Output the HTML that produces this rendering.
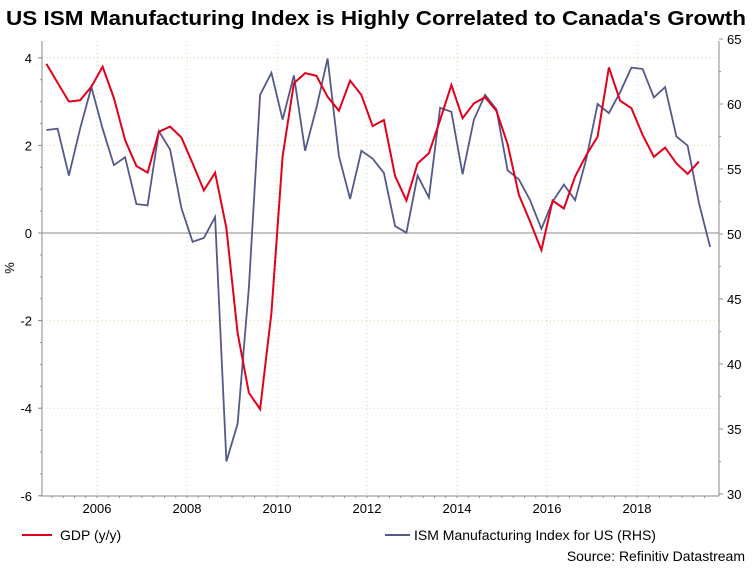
<!DOCTYPE html>
<html><head><meta charset="utf-8"><style>
body{margin:0;background:#fff;font-family:"Liberation Sans",sans-serif;}
svg text{font-family:"Liberation Sans",sans-serif;}
</style></head><body>
<svg id="chart" width="752" height="572" viewBox="0 0 752 572" xmlns="http://www.w3.org/2000/svg">
<text x="6" y="25" font-size="20" font-weight="bold" fill="#000" textLength="740" lengthAdjust="spacingAndGlyphs">US ISM Manufacturing Index is Highly Correlated to Canada's Growth</text>
<g id="grid"></g><g id="axes"></g><g id="series"></g>
<text x="0" y="0" font-size="13" transform="translate(14,268) rotate(-90)" text-anchor="middle">%</text>
<line x1="22" y1="535" x2="52" y2="535" stroke="#e3001b" stroke-width="2"/>
<text x="60" y="540" font-size="14">GDP (y/y)</text>
<line x1="385" y1="535" x2="410" y2="535" stroke="#53598a" stroke-width="2"/>
<text x="414" y="540" font-size="14">ISM Manufacturing Index for US (RHS)</text>
<text x="745" y="561" font-size="14" text-anchor="end">Source: Refinitiv Datastream</text>
</svg>
<script>
const startYear = 2004.875;
const gdpValues = [3.86,3.43,3.0,3.03,3.34,3.8,3.08,2.12,1.53,1.38,2.31,2.43,2.18,1.59,0.97,1.38,0.11,-2.28,-3.65,-4.02,-1.83,1.75,3.42,3.65,3.59,3.11,2.79,3.48,3.15,2.44,2.58,1.30,0.74,1.59,1.82,2.58,3.38,2.62,2.96,3.10,2.79,2.03,0.87,0.26,-0.39,0.74,0.56,1.29,1.78,2.2,3.78,3.02,2.85,2.24,1.74,1.95,1.59,1.35,1.63];
const ismValues = [58.0,58.1,54.5,58.1,61.3,58.1,55.3,55.9,52.3,52.2,57.9,56.5,52.0,49.4,49.7,51.3,32.5,35.4,45.9,60.7,62.4,58.8,62.2,56.4,59.7,63.5,56.0,52.7,56.4,55.8,54.7,50.6,50.1,54.5,52.8,59.7,59.4,54.6,58.8,60.7,59.6,54.9,54.2,52.6,50.4,52.5,53.8,52.6,55.8,60.0,59.3,60.9,62.8,62.7,60.5,61.3,57.5,56.8,52.4,49.0];
const leftTicks = [4,2,0,-2,-4,-6];
const rightTicks = [65,60,55,50,45,40,35,30];
const yearTicks = [2006,2008,2010,2012,2014,2016,2018];

const L=42,R=719,T=41,B=496;
const xS=y=>97+(y-2006)*45;
const yL=v=>233-v*43.8;
const yR=v=>234-(v-50)*13;
const NS='http://www.w3.org/2000/svg';
function mk(tag,attrs,parent,txt){const e=document.createElementNS(NS,tag);for(const k in attrs)e.setAttribute(k,attrs[k]);if(txt!==undefined)e.textContent=txt;parent.appendChild(e);return e;}
const grid=document.getElementById('grid'),axes=document.getElementById('axes'),series=document.getElementById('series');
yearTicks.forEach(y=>{const x=xS(y);
 const g=mk('line',{x1:x,y1:T,x2:x,y2:B,stroke:'#b8d4b8','stroke-dasharray':'1,3'},grid);
 
 
 const t=mk('text',{x:x,y:513,'font-size':13,'text-anchor':'middle'},axes,String(y));
 
 
});
leftTicks.forEach(v=>{const y=yL(v);
 if(v!==0&&v!==-6){const g=mk('line',{x1:L,y1:y,x2:R,y2:y,stroke:'#e8d0a0','stroke-dasharray':'1,3'},grid);
  
  }
 const t=mk('text',{x:32,y:y+5,'font-size':13,'text-anchor':'end'},axes,String(v));
 
 
 mk('line',{x1:L-4,y1:y,x2:L,y2:y,stroke:'#888'},axes);
});
for(let v=-6;v<=4.3;v+=0.5){mk('line',{x1:L-2,y1:yL(v),x2:L,y2:yL(v),stroke:'#999'},axes);}
rightTicks.forEach(v=>{const y=yR(v);
 const t=mk('text',{x:727,y:y+5,'font-size':13},axes,String(v));
 
 
 mk('line',{x1:R,y1:y,x2:R+4,y2:y,stroke:'#888'},axes);
});
for(let v=30;v<=65;v+=2.5){mk('line',{x1:R,y1:yR(v),x2:R+2,y2:yR(v),stroke:'#999'},axes);}
for(let q=2005;q<2019.6;q+=0.25){mk('line',{x1:xS(q),y1:B,x2:xS(q),y2:B+2,stroke:'#999'},axes);}
const zl=mk('line',{x1:L,y1:yL(0),x2:R,y2:yL(0),stroke:'#888'},axes);


const la=mk('line',{x1:L,y1:T,x2:L,y2:B,stroke:'#888'},axes);


const ra=mk('line',{x1:R,y1:T,x2:R,y2:B,stroke:'#888'},axes);


const ba=mk('line',{x1:L,y1:B,x2:R,y2:B,stroke:'#888'},axes);


const ismPts=ismValues.map((v,i)=>xS(startYear+i*0.25).toFixed(1)+','+yR(v).toFixed(1)).join(' ');
const ism=mk('polyline',{points:ismPts,fill:'none',stroke:'#53598a','stroke-width':1.8},series);


const gdpPts=gdpValues.map((v,i)=>xS(startYear+i*0.25).toFixed(1)+','+yL(v).toFixed(1)).join(' ');
const gdp=mk('polyline',{points:gdpPts,fill:'none',stroke:'#e3001b','stroke-width':2},series);


</script>
</body></html>
